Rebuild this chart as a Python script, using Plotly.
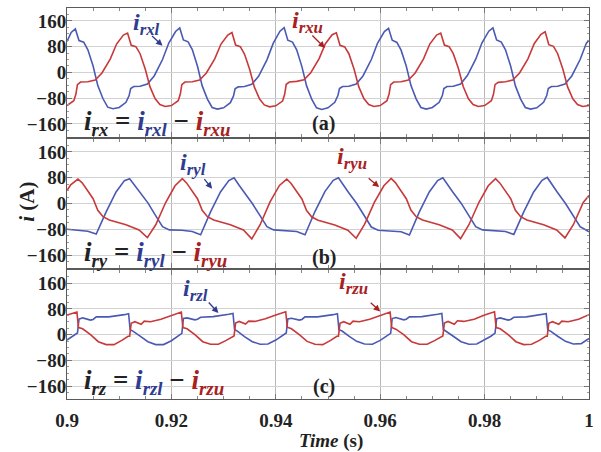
import plotly.graph_objects as go
from plotly.subplots import make_subplots

# ---------------- data ----------------
# panel (a): i_rxl (blue) and i_rxu (red)
ta_blue = [0.9000, 0.9008,
 0.9016, 0.9023, 0.9032, 0.9040, 0.9050, 0.9059, 0.9069, 0.9078, 0.9088, 0.9100, 0.9113, 0.9119, 0.9122, 0.9128, 0.9140, 0.9154, 0.9167, 0.9183, 0.9195, 0.9208,
 0.9216, 0.9223, 0.9232, 0.9240, 0.9250, 0.9259, 0.9269, 0.9278, 0.9288, 0.9300, 0.9313, 0.9319, 0.9322, 0.9328, 0.9340, 0.9354, 0.9367, 0.9383, 0.9395, 0.9408,
 0.9416, 0.9423, 0.9432, 0.9440, 0.9450, 0.9459, 0.9469, 0.9478, 0.9488, 0.9500, 0.9513, 0.9519, 0.9522, 0.9528, 0.9540, 0.9554, 0.9567, 0.9583, 0.9595, 0.9608,
 0.9616, 0.9623, 0.9632, 0.9640, 0.9650, 0.9659, 0.9669, 0.9678, 0.9688, 0.9700, 0.9713, 0.9719, 0.9722, 0.9728, 0.9740, 0.9754, 0.9767, 0.9783, 0.9795, 0.9808,
 0.9816, 0.9823, 0.9832, 0.9840, 0.9850, 0.9859, 0.9869, 0.9878, 0.9888, 0.9900, 0.9913, 0.9919, 0.9922, 0.9928, 0.9940, 0.9954, 0.9967, 0.9983, 0.9995, 1.0000]
ia_blue = [96, 124,
 135, 99, 94, 70, 20, -41, -82, -108, -113, -109, -93, -72, -50, -44, -43, -36, -11, 40, 91, 127,
 138, 101, 95, 71, 19, -42, -83, -109, -114, -110, -94, -73, -51, -45, -44, -37, -12, 39, 90, 128,
 139, 100, 94, 70, 18, -42, -84, -110, -115, -110, -93, -72, -50, -44, -43, -36, -11, 40, 91, 127,
 137, 100, 93, 69, 19, -41, -83, -109, -114, -109, -93, -72, -50, -44, -43, -36, -10, 41, 92, 128,
 138, 101, 94, 70, 19, -42, -83, -109, -114, -110, -93, -72, -50, -44, -43, -36, -11, 40, 91, 100]

ta_red = [0.9000, 0.9013, 0.9017, 0.9020, 0.9026, 0.9040, 0.9054, 0.9067, 0.9083, 0.9095, 0.9108,
 0.9116, 0.9123, 0.9132, 0.9140, 0.9150, 0.9159, 0.9169, 0.9178, 0.9188, 0.9200, 0.9213, 0.9217, 0.9220, 0.9226, 0.9240, 0.9254, 0.9267, 0.9283, 0.9295, 0.9308,
 0.9316, 0.9323, 0.9332, 0.9340, 0.9350, 0.9359, 0.9369, 0.9378, 0.9388, 0.9400, 0.9413, 0.9417, 0.9420, 0.9426, 0.9440, 0.9454, 0.9467, 0.9483, 0.9495, 0.9508,
 0.9516, 0.9523, 0.9532, 0.9540, 0.9550, 0.9559, 0.9569, 0.9578, 0.9588, 0.9600, 0.9613, 0.9617, 0.9620, 0.9626, 0.9640, 0.9654, 0.9667, 0.9683, 0.9695, 0.9708,
 0.9716, 0.9723, 0.9732, 0.9740, 0.9750, 0.9759, 0.9769, 0.9778, 0.9788, 0.9800, 0.9813, 0.9817, 0.9820, 0.9826, 0.9840, 0.9854, 0.9867, 0.9883, 0.9895, 0.9908,
 0.9916, 0.9923, 0.9932, 0.9940, 0.9950, 0.9959, 0.9969, 0.9978, 0.9988, 1.0000]
ia_red = [-103, -88, -68, -38, -30, -29, -24, -2, 42, 88, 116,
 122, 84, 80, 58, 10, -45, -82, -100, -106, -103, -88, -68, -38, -30, -29, -24, -2, 42, 88, 116,
 124, 85, 80, 57, 9, -46, -83, -101, -107, -104, -89, -68, -37, -30, -28, -23, -1, 43, 89, 117,
 123, 84, 79, 58, 10, -45, -82, -100, -106, -103, -88, -67, -38, -30, -29, -24, -2, 42, 88, 116,
 122, 85, 80, 58, 11, -44, -82, -100, -106, -103, -88, -68, -38, -31, -29, -24, -2, 42, 89, 118,
 126, 86, 81, 58, 10, -45, -82, -100, -106, -103]

# panel (b): i_ryl (blue) and i_ryu (red)
tb_blue = [0.9000, 0.9020, 0.9040, 0.9056, 0.9075, 0.9094, 0.9110,
 0.9120, 0.9130, 0.9139, 0.9155, 0.9171, 0.9183, 0.9196, 0.9220, 0.9240, 0.9256, 0.9275, 0.9294, 0.9310,
 0.9320, 0.9330, 0.9339, 0.9355, 0.9371, 0.9383, 0.9396, 0.9420, 0.9440, 0.9456, 0.9475, 0.9494, 0.9510,
 0.9520, 0.9530, 0.9539, 0.9555, 0.9571, 0.9583, 0.9596, 0.9620, 0.9640, 0.9656, 0.9675, 0.9694, 0.9710,
 0.9720, 0.9730, 0.9739, 0.9755, 0.9771, 0.9783, 0.9796, 0.9820, 0.9840, 0.9856, 0.9875, 0.9894, 0.9910,
 0.9920, 0.9930, 0.9939, 0.9955, 0.9971, 0.9983, 0.9996, 1.0000]
ib_blue = [-80, -83, -86, -95, -26, 36, 71,
 77, 55, 36, 2, -41, -72, -82, -83, -87, -97, -26, 36, 71,
 80, 56, 36, 0, -41, -72, -82, -84, -87, -97, -25, 37, 72,
 80, 55, 35, 0, -42, -73, -83, -85, -88, -98, -26, 36, 71,
 80, 55, 36, 1, -41, -72, -82, -84, -87, -96, -26, 36, 72,
 81, 56, 36, 0, -41, -72, -84, -88]

tb_red = [0.9000, 0.9007,
 0.9021, 0.9029, 0.9037, 0.9050, 0.9059, 0.9069, 0.9081, 0.9113, 0.9138, 0.9154, 0.9170, 0.9189, 0.9207,
 0.9221, 0.9229, 0.9237, 0.9250, 0.9259, 0.9269, 0.9281, 0.9313, 0.9338, 0.9354, 0.9370, 0.9389, 0.9407,
 0.9421, 0.9429, 0.9437, 0.9450, 0.9459, 0.9469, 0.9481, 0.9513, 0.9538, 0.9554, 0.9570, 0.9589, 0.9607,
 0.9621, 0.9629, 0.9637, 0.9650, 0.9659, 0.9669, 0.9681, 0.9713, 0.9738, 0.9754, 0.9770, 0.9789, 0.9807,
 0.9821, 0.9829, 0.9837, 0.9850, 0.9859, 0.9869, 0.9881, 0.9913, 0.9938, 0.9954, 0.9970, 0.9989, 1.0000]
ib_red = [40, 58,
 76, 64, 46, 15, -21, -41, -51, -66, -82, -106, -66, 3, 55,
 77, 64, 46, 15, -21, -41, -51, -66, -82, -110, -66, 5, 56,
 76, 63, 45, 14, -22, -42, -52, -67, -83, -108, -65, 4, 55,
 78, 65, 46, 15, -21, -41, -51, -66, -82, -109, -66, 3, 55,
 77, 64, 46, 15, -21, -41, -51, -66, -82, -107, -66, 3, 25]

# panel (c): i_rzl (blue) and i_rzu (red)
tc_blue = [0.9000, 0.9012,
 0.9020, 0.9023, 0.9030, 0.9045, 0.9050, 0.9056, 0.9080, 0.9110, 0.9118, 0.9121, 0.9127, 0.9140, 0.9155, 0.9170, 0.9185, 0.9200, 0.9212,
 0.9220, 0.9223, 0.9230, 0.9245, 0.9250, 0.9256, 0.9280, 0.9310, 0.9318, 0.9321, 0.9327, 0.9340, 0.9355, 0.9370, 0.9385, 0.9400, 0.9412,
 0.9420, 0.9423, 0.9430, 0.9445, 0.9450, 0.9456, 0.9480, 0.9510, 0.9518, 0.9521, 0.9527, 0.9540, 0.9555, 0.9570, 0.9585, 0.9600, 0.9612,
 0.9620, 0.9623, 0.9630, 0.9645, 0.9650, 0.9656, 0.9680, 0.9710, 0.9718, 0.9721, 0.9727, 0.9740, 0.9755, 0.9770, 0.9785, 0.9800, 0.9812,
 0.9820, 0.9823, 0.9830, 0.9845, 0.9850, 0.9856, 0.9880, 0.9910, 0.9918, 0.9921, 0.9927, 0.9940, 0.9955, 0.9970, 0.9985, 1.0000]
ic_blue = [-17, -5,
 5, 48, 52, 45, 47, 55, 55, 62, 65, 15, 10, -5, -22, -31, -31, -19, -6,
 4, 50, 52, 46, 48, 54, 56, 63, 66, 16, 10, -6, -22, -30, -29, -17, -5,
 5, 49, 51, 45, 47, 55, 55, 62, 65, 15, 11, -5, -21, -29, -30, -18, -6,
 4, 50, 53, 46, 48, 55, 56, 63, 66, 16, 10, -5, -22, -30, -29, -17, -5,
 5, 49, 52, 45, 47, 54, 55, 62, 65, 15, 10, -5, -21, -29, -28, -12]

tc_red = [0.9000, 0.9019, 0.9022, 0.9030, 0.9045, 0.9060, 0.9075, 0.9090, 0.9105, 0.9117,
 0.9120, 0.9123, 0.9130, 0.9142, 0.9148, 0.9160, 0.9180, 0.9200, 0.9219, 0.9222, 0.9230, 0.9245, 0.9260, 0.9275, 0.9290, 0.9305, 0.9317,
 0.9320, 0.9323, 0.9330, 0.9342, 0.9348, 0.9360, 0.9380, 0.9400, 0.9419, 0.9422, 0.9430, 0.9445, 0.9460, 0.9475, 0.9490, 0.9505, 0.9517,
 0.9520, 0.9523, 0.9530, 0.9542, 0.9548, 0.9560, 0.9580, 0.9600, 0.9619, 0.9622, 0.9630, 0.9645, 0.9660, 0.9675, 0.9690, 0.9705, 0.9717,
 0.9720, 0.9723, 0.9730, 0.9742, 0.9748, 0.9760, 0.9780, 0.9800, 0.9819, 0.9822, 0.9830, 0.9845, 0.9860, 0.9875, 0.9890, 0.9905, 0.9917,
 0.9920, 0.9923, 0.9930, 0.9942, 0.9948, 0.9960, 0.9980, 1.0000]
ic_red = [61, 70, 22, 18, 0, -22, -31, -31, -18, -5,
 -5, 35, 40, 32, 42, 40, 48, 60, 70, 22, 18, 0, -22, -30, -30, -18, -5,
 -4, 36, 41, 33, 42, 41, 49, 61, 71, 23, 18, 0, -21, -30, -31, -18, -5,
 -5, 35, 40, 32, 42, 40, 48, 60, 70, 22, 17, 0, -22, -30, -30, -18, -5,
 -4, 36, 41, 32, 43, 41, 48, 61, 71, 22, 18, 0, -22, -31, -30, -18, -5,
 -5, 35, 40, 32, 42, 40, 48, 62]

y_ticks = [-160, -80, 0, 80, 160]
y_tick_text = ["\u2212160", "\u221280", "0", "80", "160"]
x_ticks = [0.90, 0.92, 0.94, 0.96, 0.98, 1.00]
x_tick_text = ["0.9", "0.92", "0.94", "0.96", "0.98", "1"]

# ---------------- styling ----------------
BLUE = "#4a5ab4"
RED = "#c8393a"
BLUE_TXT = "#2f3c8f"
RED_TXT = "#a8211f"
SERIF = "Liberation Serif"

fig = make_subplots(rows=3, cols=1, shared_xaxes=True, vertical_spacing=0.006)

series = [
    (ta_blue, ia_blue, BLUE, 1), (ta_red, ia_red, RED, 1),
    (tb_blue, ib_blue, BLUE, 2), (tb_red, ib_red, RED, 2),
    (tc_blue, ic_blue, BLUE, 3), (tc_red, ic_red, RED, 3),
]
for t, v, c, r in series:
    fig.add_trace(go.Scatter(x=t, y=v, mode="lines", line=dict(color=c, width=1.6),
                             showlegend=False, hoverinfo="skip"), row=r, col=1)

for r in (1, 2, 3):
    fig.update_xaxes(range=[0.9, 1.0], tickvals=x_ticks, ticktext=x_tick_text,
                     showgrid=True, gridcolor="#b8b8b8", gridwidth=1,
                     showline=True, linecolor="#5a5a5a", linewidth=1, mirror="allticks",
                     ticks="inside", ticklen=5, tickcolor="#777",
                     minor=dict(dtick=0.005, ticks="inside", ticklen=3, tickcolor="#888", showgrid=False),
                     tickfont=dict(family=SERIF, size=19, color="#222", weight="bold"),
                     ticklabelstandoff=4,
                     zeroline=False, row=r, col=1)
    fig.update_yaxes(range=[-200, 200], tickvals=y_ticks, ticktext=y_tick_text,
                     showgrid=True, gridcolor="#d2d2d2", gridwidth=1,
                     showline=True, linecolor="#5a5a5a", linewidth=1, mirror="allticks",
                     ticks="inside", ticklen=5, tickcolor="#777",
                     minor=dict(dtick=20, ticks="inside", ticklen=2, tickcolor="#999", showgrid=False),
                     tickfont=dict(family=SERIF, size=19, color="#222", weight="bold"),
                     ticklabelstandoff=-4,
                     zeroline=False, row=r, col=1)


def lab(sub):
    return f"<b><i>i</i><sub><i>{sub}</i></sub></b>"


ann = []
font_lab = dict(family=SERIF, size=24)
font_eq = dict(family=SERIF, size=27, color="#222")
font_pl = dict(family=SERIF, size=20, color="#222")

panels = [
    ("x", "y", "rx", "rxl", "rxu", (0.9152, 150), (0.9460, 158), (0.9183, 83, -12, -11), (0.9494, 76, -14, -14), -156, "(a)", -160),
    ("x2", "y2", "ry", "ryl", "ryu", (0.9241, 124), (0.9546, 142), (0.9278, 46, -9, -11), (0.9598, 51, -12, -10), -157, "(b)", -168),
    ("x3", "y3", "rz", "rzl", "rzu", (0.9247, 140), (0.9549, 160), (0.9290, 67, -11, -12), (0.9600, 72, -11, -10), -147, "(c)", -160),
]
for xr, yr, s, sb, sr, pb, pr, ab, ar, eqy, pl, ply in panels:
    ann.append(dict(xref=xr, yref=yr, x=pb[0], y=pb[1], text=lab(sb), showarrow=False,
                    font=dict(color=BLUE_TXT, **font_lab)))
    ann.append(dict(xref=xr, yref=yr, x=pr[0], y=pr[1], text=lab(sr), showarrow=False,
                    font=dict(color=RED_TXT, **font_lab)))
    ann.append(dict(xref=xr, yref=yr, x=ab[0], y=ab[1], ax=ab[2], ay=ab[3], text="", showarrow=True,
                    arrowhead=2, arrowsize=1, arrowwidth=1.3, arrowcolor=BLUE_TXT))
    ann.append(dict(xref=xr, yref=yr, x=ar[0], y=ar[1], ax=ar[2], ay=ar[3], text="", showarrow=True,
                    arrowhead=2, arrowsize=1, arrowwidth=1.3, arrowcolor=RED_TXT))
    eq = (f"<b><i>i</i><sub><i>{s}</i></sub> = "
          f"<span style='color:{BLUE_TXT}'><i>i</i><sub><i>{sb}</i></sub></span> \u2212 "
          f"<span style='color:{RED_TXT}'><i>i</i><sub><i>{sr}</i></sub></span></b>")
    ann.append(dict(xref=xr, yref=yr, x=0.9029, y=eqy, text=eq, showarrow=False,
                    xanchor="left", font=font_eq))
    ann.append(dict(xref=xr, yref=yr, x=0.9492, y=ply, text=f"<b>{pl}</b>", showarrow=False,
                    font=font_pl))

ann.append(dict(xref="paper", yref="paper", x=-0.078, y=0.505, xanchor="center", yanchor="middle",
                text="<b><i>i</i> (A)</b>", textangle=-90, showarrow=False,
                font=dict(family=SERIF, size=21, color="#222")))
ann.append(dict(xref="paper", yref="paper", x=0.505, y=-0.107, xanchor="center", yanchor="middle",
                text="<b><i>Time</i> (s)</b>", showarrow=False,
                font=dict(family=SERIF, size=19, color="#222")))

fig.update_layout(width=601, height=452, margin=dict(l=67, r=8, t=7, b=53),
                  plot_bgcolor="white", paper_bgcolor="white", annotations=ann,
                  showlegend=False)

fig.write_html("out.html", config={"displayModeBar": False},
               post_script="document.body.style.margin='0px';")
